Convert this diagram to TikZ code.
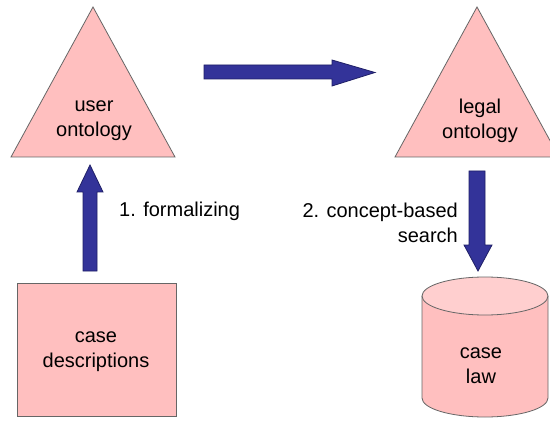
\documentclass[tikz,border=0pt]{standalone}
\usepackage{fontspec}
\setmainfont{Liberation Sans}
\begin{document}
\begin{tikzpicture}[x=1pt,y=-1pt,
  shapefill/.style={fill=pinkfill,draw=gray!80!black,line width=0.8pt},
  blockarrow/.style={fill=arrowblue,draw=arrowedge,line width=0.8pt,line join=miter},
  lbl/.style={font=\fontsize{20}{25}\selectfont,align=center,text=black,inner sep=0pt},
]
\definecolor{pinkfill}{HTML}{FFBFBF}
\definecolor{pinktop}{HTML}{FFCFCF}
\definecolor{arrowblue}{HTML}{333399}
\definecolor{arrowedge}{HTML}{1F1F66}
\path[use as bounding box] (0,0) rectangle (550,428);
\clip (0,0) rectangle (550,428);
\fill[white] (0,0) rectangle (550,428);
% left triangle
\coordinate (ua) at (93,7);
\coordinate (ul) at (11,157);
\coordinate (ur) at (175,157);
\draw[shapefill] (ua) -- (ul) -- (ur) -- cycle;
\node[lbl] (user) at (94,121) {user\\ontology};
% right triangle
\coordinate (la) at (477,7);
\coordinate (ll) at (395,157);
\coordinate (lr) at (559,157);
\draw[shapefill] (la) -- (ll) -- (lr) -- cycle;
\node[lbl] (legal) at (480,121) {legal\\ontology};
% case descriptions
\draw[shapefill] (17,283) rectangle (176,416);
\node[lbl] (cd) at (96,352) {case\\descriptions};
% cylinder
\draw[shapefill] (422,296) -- (422,398) arc[start angle=180,end angle=0,x radius=63,y radius=19] -- (548,296);
\draw[shapefill,fill=pinktop] (485,296) ellipse[x radius=63,y radius=19];
\node[lbl] (cl) at (481,366) {case\\law};
% horizontal arrow
\draw[blockarrow] (204,65) -- (332,65) -- (332,60) -- (375,72.5) -- (332,86) -- (332,79) -- (204,79) -- cycle;
% up arrow
\draw[blockarrow] (83,271) -- (83,192) -- (77,192) -- (90,165) -- (103,192) -- (97,192) -- (97,271) -- cycle;
% down arrow
\draw[blockarrow] (469,171) -- (485,171) -- (485,245) -- (492,245) -- (478,271) -- (464,245) -- (469,245) -- cycle;
% labels
\node[lbl,anchor=west] (f) at (119,211) {1. formalizing};
\node[lbl,anchor=east,align=right] (s) at (458,223) {2. concept-based\\search};
\end{tikzpicture}
\end{document}
